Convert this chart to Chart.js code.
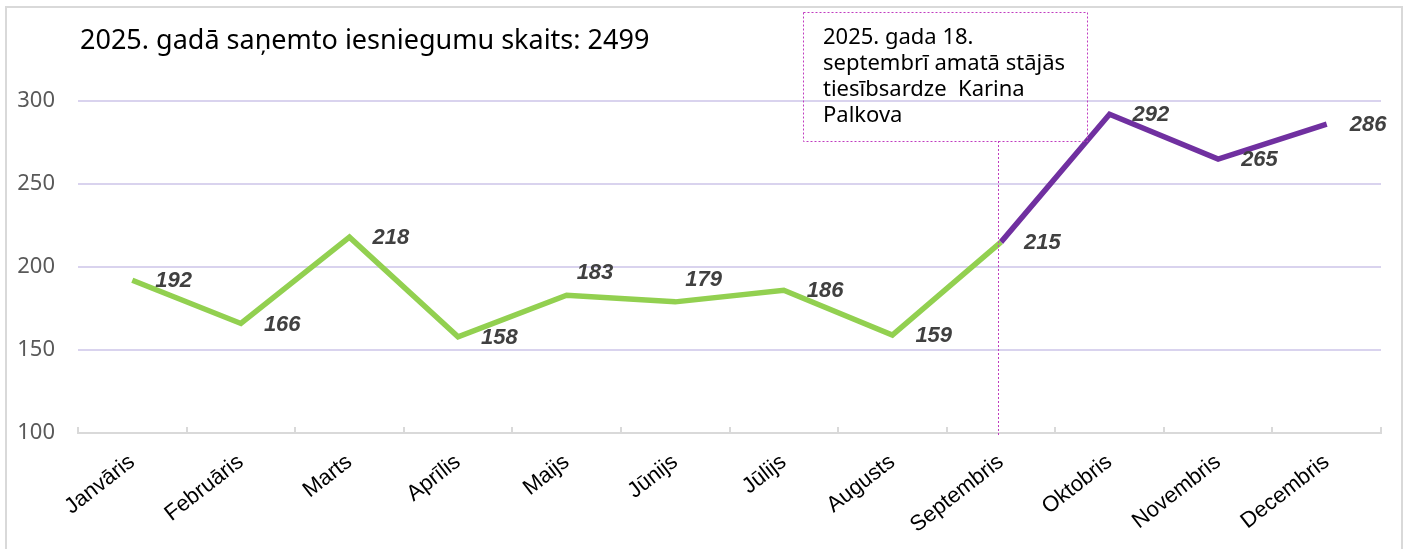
<!DOCTYPE html>
<html>
<head>
<meta charset="utf-8">
<script src="https://cdn.jsdelivr.net/npm/chart.js@4/dist/chart.umd.min.js"></script>
<style>
  html, body { margin: 0; padding: 0; background: #fff; }
  #wrap { width: 1407px; height: 549px; position: relative; }
</style>
</head>
<body>
<div id="wrap"><canvas id="c" width="1407" height="549"></canvas></div>
<script>
/* DATA */
var months = ["Janvāris", "Februāris", "Marts", "Aprīlis", "Maijs", "Jūnijs",
  "Jūlijs", "Augusts", "Septembris", "Oktobris", "Novembris", "Decembris"];
var counts = [192, 166, 218, 158, 183, 179, 186, 159, 215, 292, 265, 286];
var splitIndex = 8; // Septembris - new ombudsman
var yTicks = [100, 150, 200, 250, 300];
var title = "2025. gadā saņemto iesniegumu skaits: 2499";
var noteLines = ["2025. gada 18.", "septembrī amatā stājās", "tiesībsardze  Karina", "Palkova"];

var before = counts.map(function(v, i) { return i <= splitIndex ? v : null; });
var after = counts.map(function(v, i) { return i >= splitIndex ? v : null; });

// label placement: "above" for the two flat points, else right of the point
var labelAbove = [false, false, false, false, true, true, false, false, false, false, false, false];

var SANS = "'Noto Sans', 'Open Sans', sans-serif";
var ARIAL = "'Liberation Sans', Arial, sans-serif";

/* DECORATION PLUGIN */
var extras = {
  id: "extras",
  beforeDraw: function(chart) {
    var ctx = chart.ctx;
    ctx.save();
    ctx.strokeStyle = "#d9d9d9";
    ctx.lineWidth = 2;
    ctx.strokeRect(6, 7, 1396, 560);
    ctx.fillStyle = "#000";
    ctx.font = "27px " + SANS;
    ctx.textBaseline = "middle";
    ctx.fillText(title, 80, 41);
    ctx.restore();
  },
  afterDraw: function(chart) {
    var ctx = chart.ctx, x = chart.scales.x, y = chart.scales.y;
    var area = chart.chartArea;
    ctx.save();
    // tick marks on the category axis
    ctx.strokeStyle = "#d9d9d9";
    ctx.lineWidth = 2;
    var step = x.getPixelForValue(1) - x.getPixelForValue(0);
    for (var i = 0; i <= months.length; i++) {
      var px = Math.round(x.getPixelForValue(i) - step / 2);
      ctx.beginPath();
      ctx.moveTo(px, area.bottom);
      ctx.lineTo(px, area.bottom - 6);
      ctx.stroke();
    }
    // data labels
    ctx.fillStyle = "#404040";
    ctx.font = "italic bold 22px " + ARIAL;
    ctx.textAlign = "left";
    ctx.textBaseline = "middle";
    counts.forEach(function(v, i) {
      var px = x.getPixelForValue(i), py = y.getPixelForValue(v);
      if (labelAbove[i]) {
        ctx.fillText(String(v), px + 10, py - 22);
      } else {
        ctx.fillText(String(v), px + 23, py + 1);
      }
    });
    // note callout
    var lx = Math.round(x.getPixelForValue(splitIndex)) - 2.5;
    ctx.strokeStyle = "#c03cc0";
    ctx.lineWidth = 1;
    ctx.setLineDash([2, 2]);
    ctx.beginPath();
    ctx.moveTo(lx, 141);
    ctx.lineTo(lx, area.bottom + 3);
    ctx.stroke();
    ctx.strokeRect(803.5, 12.5, 284, 129);
    ctx.setLineDash([]);
    ctx.fillStyle = "#000";
    ctx.font = "22px " + SANS;
    noteLines.forEach(function(t, i) {
      ctx.fillText(t, 823, 38 + i * 26);
    });
    ctx.restore();
  }
};

new Chart(document.getElementById("c"), {
  type: "line",
  data: {
    labels: months,
    datasets: [
      { data: before, borderColor: "#92d050", borderWidth: 5.5, pointRadius: 0,
        tension: 0, spanGaps: false, borderJoinStyle: "miter", borderCapStyle: "butt" },
      { data: after, borderColor: "#7030a0", borderWidth: 5.5, pointRadius: 0,
        tension: 0, spanGaps: false, borderJoinStyle: "miter", borderCapStyle: "butt" }
    ]
  },
  options: {
    responsive: false,
    animation: false,
    clip: false,
    layout: { padding: { top: 101, right: 26, bottom: 0, left: 0 } },
    plugins: { legend: { display: false }, tooltip: { enabled: false } },
    scales: {
      x: {
        offset: true,
        grid: { display: false },
        border: { display: true, color: "#d9d9d9", width: 2 },
        ticks: {
          color: "#000", font: { family: ARIAL, size: 22 },
          minRotation: 38, maxRotation: 38, padding: 8, autoSkip: false
        },
        afterFit: function(s) { s.height = 116; }
      },
      y: {
        min: 100, max: 300,
        afterBuildTicks: function(s) { s.ticks = yTicks.map(function(v) { return { value: v }; }); },
        grid: {
          drawTicks: false,
          color: function(c) { return c.tick.value === 100 ? "rgba(0,0,0,0)" : "#d9d3ee"; },
          lineWidth: 2
        },
        border: { display: false },
        ticks: { color: "#595959", font: { family: SANS, size: 22 }, padding: 23 },
        afterFit: function(s) { s.width = 78; }
      }
    }
  },
  plugins: [extras]
});
</script>
</body>
</html>
